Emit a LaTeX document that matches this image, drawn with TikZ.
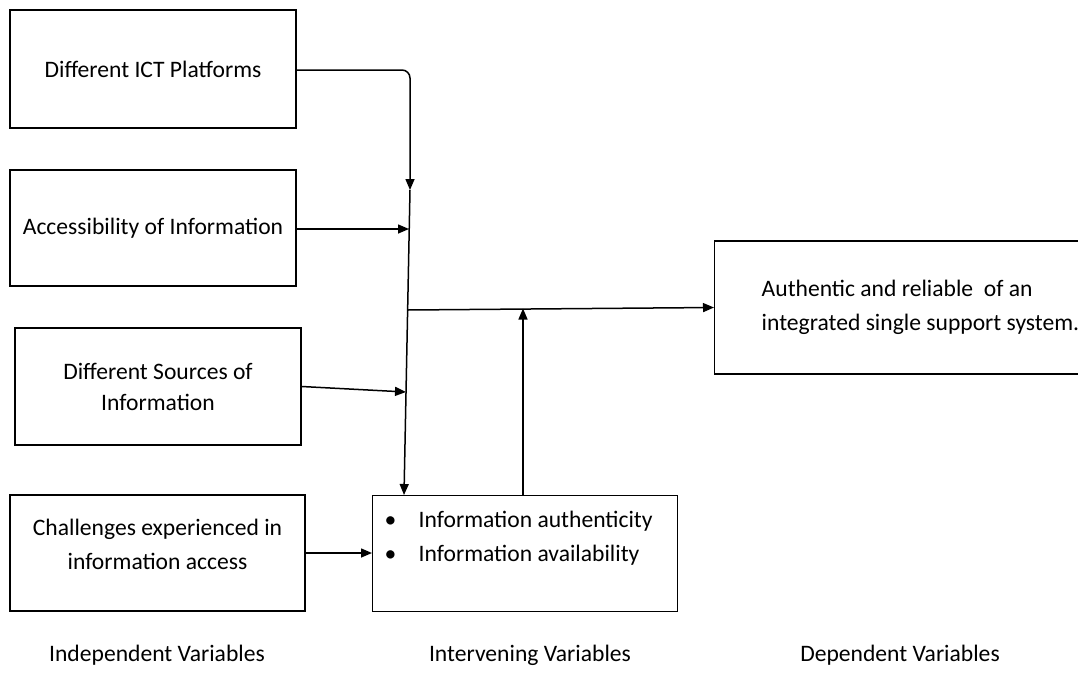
\documentclass[tikz,border=0pt]{standalone}
\usepackage{fontspec}
\setmainfont{Carlito}
\usetikzlibrary{arrows.meta,positioning}

\begin{document}
\begin{tikzpicture}[x=0.5pt, y=-0.5pt, font=\fontsize{11.8}{17}\selectfont,
    varbox/.style={draw, line width=0.7pt, inner sep=0pt, align=center},
    link/.style={line width=0.75pt, -{Triangle[length=5.5pt,width=4.5pt]}}]
    \useasboundingbox (0,0) rectangle (1078,691);

    % Independent variables
    \node[varbox, minimum width=143pt, minimum height=59pt] (platforms) at (153,69) {Different ICT Platforms};
    \node[varbox, minimum width=143pt, minimum height=58pt] (access) at (153,228) {Accessibility of Information};
    \node[varbox, minimum width=143pt, minimum height=58.5pt, font=\fontsize{11.8}{15.5}\selectfont] (sources) at (158,386.5) {Different Sources of\\Information};
    \node[varbox, minimum width=147.5pt, minimum height=58pt] (challenges) at (157.5,553) {Challenges experienced in\\information access\\[-8pt]\mbox{}};

    % Intervening variables
    \node[varbox, anchor=north west, text width=140.5pt, minimum height=58pt, inner xsep=6pt, align=flush left] (intervene) at (372,495)
        {\makebox[17pt][l]{\textbullet}Information authenticity\\\makebox[17pt][l]{\textbullet}Information availability\\\mbox{}};

    % Dependent variable
    \node[varbox, anchor=west, minimum height=66.5pt, inner xsep=23.5pt, align=left] (outcome) at (714,307.5)
        {Authentic and reliable\ \ of an\\integrated single support system.};

    % Joints on the spine
    \coordinate (bend) at (410,70);
    \coordinate (j1) at (410,190);
    \coordinate (j2) at (409,229);
    \coordinate (j3) at (408,310);
    \coordinate (j4) at (406,392);
    \coordinate (j5) at (404,495);
    \coordinate (up) at (523,308.5);

    \draw[link, rounded corners=4pt] (platforms.east |- bend) -- (bend) -- (j1);
    \draw[link] (j1) -- (j5);
    \draw[link] (access.east |- j2) -- (j2);
    \draw[link] (sources.east) -- (j4);
    \draw[link] (challenges.east) -- (intervene.west |- challenges.east);
    \draw[link] (j3) -- (outcome.west);
    \draw[link] (intervene.north -| up) -- (up);

    % Column titles
    \node (indep) at (157,655) {Independent Variables};
    \node (interv) at (530,655) {Intervening Variables};
    \node (dep) at (900,655) {Dependent Variables};
\end{tikzpicture}
\end{document}
